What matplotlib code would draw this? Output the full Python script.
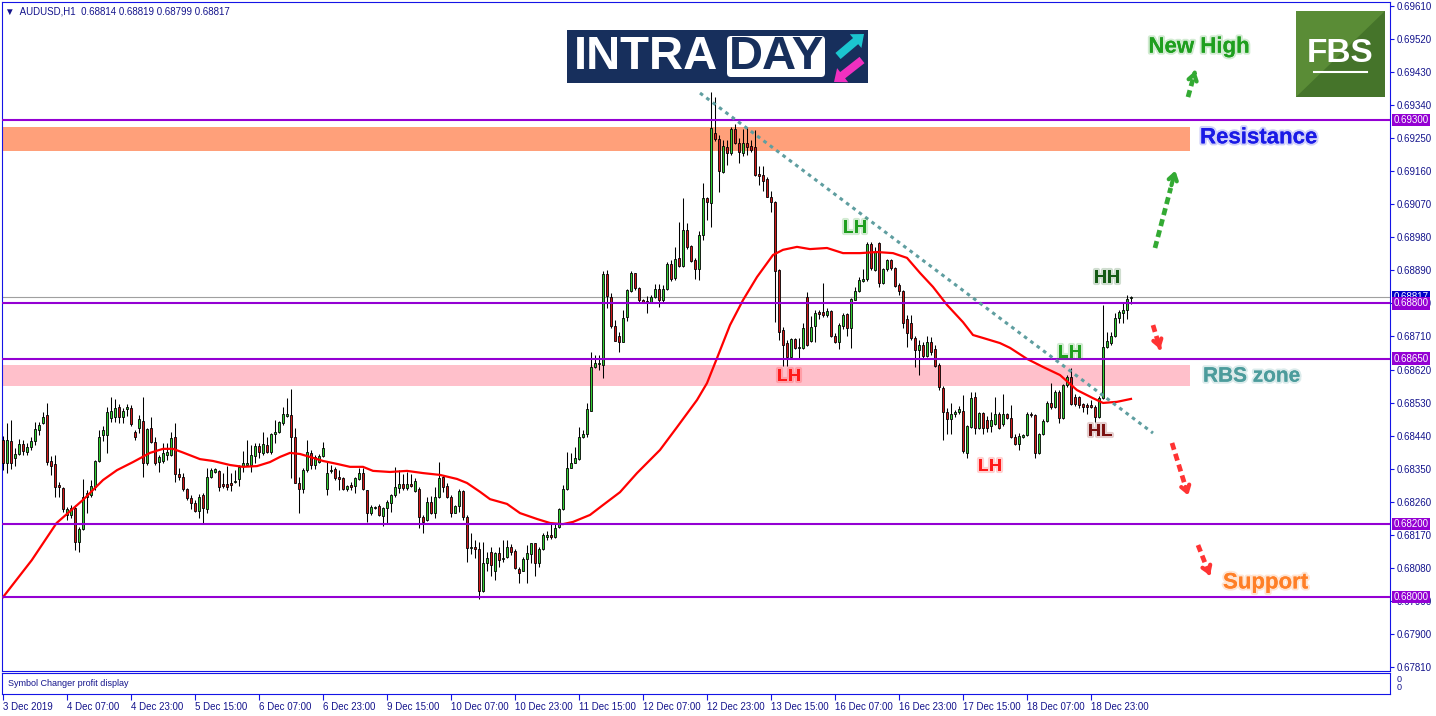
import numpy as np
import matplotlib
matplotlib.use('Agg')
import matplotlib.pyplot as plt
from matplotlib.patches import Rectangle, FancyBboxPatch, FancyArrow, Polygon
import matplotlib.patheffects as pe

plt.rcParams['font.family'] = ['Liberation Sans', 'DejaVu Sans']

W, H = 1436, 716
BASE = 0.68  # candle values below are pips above 0.68000

# AUDUSD H1 candles, 3 Dec 15:00 .. 19 Dec 08:00
bar_open = [
    42.8, 36.5, 42.5, 37.8, 39.0, 41.7, 39.6, 40.8, 42.6, 45.4,
    47.4, 49.6, 37.1, 36.2, 30.5, 29.7, 22.4, 22.4, 24.4, 14.9,
    18.6, 27.4, 27.8, 30.1, 37.1, 44.2, 44.2, 48.7, 49.2, 51.7,
    49.0, 51.2, 51.4, 45.1, 46.0, 48.0, 36.6, 46.0, 42.4, 36.9,
    37.2, 38.7, 38.7, 43.5, 33.5, 32.8, 29.4, 26.9, 25.6, 23.6,
    27.8, 23.9, 32.8, 34.2, 34.5, 30.8, 30.8, 31.0, 31.5, 32.3,
    35.6, 36.0, 36.0, 38.5, 41.2, 39.4, 41.5, 39.6, 44.4, 44.9,
    47.4, 49.4, 49.6, 43.5, 31.0, 29.4, 34.7, 39.4, 36.0, 36.9,
    38.5, 29.4, 34.5, 34.8, 32.7, 32.4, 29.4, 30.5, 30.3, 32.3,
    33.7, 29.2, 22.9, 24.2, 24.8, 22.1, 24.2, 25.7, 27.8, 29.7,
    30.8, 29.7, 30.8, 29.0, 29.4, 21.9, 21.0, 26.0, 22.8, 27.4,
    32.6, 30.3, 27.4, 23.0, 24.8, 29.0, 21.9, 13.3, 13.8, 13.0,
    1.8, 9.4, 12.4, 7.2, 12.1, 10.3, 10.9, 13.8, 12.7, 7.6,
    7.2, 10.3, 11.8, 14.7, 9.4, 13.0, 16.5, 16.9, 16.3, 19.0,
    23.9, 29.4, 35.1, 36.6, 37.5, 43.6, 44.5, 50.8, 62.6, 63.4,
    63.3, 88.0, 81.7, 73.9, 71.2, 69.6, 76.4, 83.5, 88.2, 84.1,
    81.0, 80.6, 80.2, 81.7, 83.9, 80.8, 83.9, 90.8, 86.9, 92.3,
    90.2, 100.0, 95.6, 91.8, 89.5, 98.6, 108.6, 107.4, 126.5, 124.9,
    115.9, 122.5, 120.9, 127.4, 123.6, 121.0, 123.6, 122.9, 122.5, 115.2,
    115.0, 113.8, 109.1, 107.5, 89.1, 72.8, 69.3, 65.3, 70.2, 67.8,
    67.8, 81.7, 69.9, 73.9, 77.8, 77.6, 76.9, 78.0, 71.1, 69.6,
    73.9, 77.0, 73.4, 80.9, 83.4, 86.2, 86.6, 96.2, 89.1, 96.4,
    85.5, 89.3, 91.7, 89.6, 85.0, 83.4, 75.7, 74.6, 70.5, 67.3,
    68.7, 65.7, 69.6, 67.5, 63.2, 56.9, 50.3, 48.5, 49.9, 50.3,
    50.7, 39.4, 46.3, 54.5, 46.0, 50.1, 48.3, 46.5, 47.2, 49.9,
    47.2, 49.9, 48.7, 43.6, 41.8, 43.6, 44.2, 49.9, 49.6, 39.4,
    44.5, 48.1, 52.8, 51.7, 56.0, 48.7, 57.8, 59.9, 54.5, 54.5,
    52.6, 52.4, 52.4, 51.9, 49.0, 54.2, 68.1, 69.3, 71.0, 76.0,
    77.5, 78.1, 81.4]
bar_high = [
    44.0, 47.4, 48.3, 40.5, 43.0, 42.8, 41.9, 43.7, 47.8, 47.8,
    50.4, 53.0, 38.5, 38.6, 31.5, 29.9, 24.5, 25.1, 25.1, 19.2,
    32.1, 29.2, 31.9, 37.4, 45.5, 46.6, 51.9, 54.4, 53.9, 52.6,
    51.4, 52.6, 52.3, 45.5, 49.6, 54.6, 46.0, 49.2, 43.5, 38.7,
    42.1, 41.9, 45.1, 47.5, 35.1, 33.7, 29.7, 27.8, 26.5, 28.1,
    28.3, 35.1, 35.1, 35.1, 34.7, 33.7, 35.7, 33.7, 34.7, 36.0,
    39.9, 42.8, 41.5, 41.9, 41.9, 45.1, 43.7, 44.6, 48.3, 48.1,
    51.9, 54.2, 56.6, 46.0, 32.8, 35.1, 42.8, 40.1, 38.7, 39.0,
    42.4, 36.9, 36.0, 35.4, 34.7, 32.8, 30.5, 31.5, 32.8, 35.1,
    35.1, 29.2, 25.1, 24.8, 25.4, 24.5, 26.5, 28.1, 35.5, 34.6,
    33.6, 34.2, 33.6, 32.4, 29.9, 22.4, 27.4, 27.6, 29.9, 36.9,
    33.3, 31.0, 27.8, 25.1, 29.4, 29.2, 22.4, 17.4, 15.6, 15.1,
    15.1, 12.4, 13.8, 12.4, 13.8, 15.6, 15.6, 14.5, 13.0, 8.3,
    11.0, 14.2, 14.7, 14.7, 13.8, 17.4, 17.9, 19.9, 20.3, 24.2,
    30.6, 39.6, 39.2, 41.0, 46.4, 45.6, 52.8, 66.9, 66.0, 66.0,
    88.7, 89.1, 82.8, 75.5, 72.3, 78.2, 83.9, 88.7, 88.4, 84.6,
    81.2, 82.1, 82.3, 85.3, 85.3, 85.1, 91.4, 91.9, 95.3, 102.3,
    108.6, 102.0, 95.9, 92.3, 99.8, 112.7, 109.1, 137.6, 136.3, 125.9,
    124.5, 124.5, 128.1, 129.0, 125.0, 127.4, 127.7, 124.5, 127.2, 117.4,
    117.4, 114.3, 110.5, 108.0, 89.5, 73.5, 70.0, 70.5, 70.5, 70.5,
    74.6, 83.2, 76.6, 78.2, 78.2, 85.7, 78.7, 78.2, 71.9, 74.6,
    77.3, 77.3, 81.4, 84.6, 87.3, 89.3, 96.8, 96.8, 95.5, 96.6,
    89.6, 92.0, 92.0, 89.8, 85.5, 83.7, 76.9, 76.9, 71.0, 70.1,
    69.6, 71.0, 70.8, 68.7, 63.7, 57.4, 51.5, 53.0, 51.0, 52.0,
    55.1, 46.9, 56.0, 56.0, 50.3, 50.3, 49.4, 50.5, 54.6, 50.3,
    55.4, 50.1, 52.4, 44.5, 44.7, 44.5, 50.3, 50.5, 49.9, 44.7,
    48.5, 53.3, 58.3, 56.5, 56.3, 58.1, 60.5, 62.4, 55.4, 54.7,
    53.0, 53.0, 53.7, 52.4, 54.7, 79.6, 72.3, 72.1, 77.3, 78.2,
    80.5, 82.3, 81.9]
bar_low = [
    34.7, 33.7, 34.8, 35.6, 38.6, 38.7, 38.7, 40.1, 41.5, 44.2,
    47.2, 36.0, 33.3, 27.4, 27.4, 23.3, 21.0, 21.5, 12.9, 12.2,
    18.3, 22.9, 27.4, 29.2, 36.9, 42.5, 39.4, 47.8, 47.8, 47.5,
    47.4, 49.4, 46.7, 42.8, 44.8, 32.7, 36.0, 41.9, 36.0, 34.2,
    36.5, 37.4, 38.5, 31.5, 31.9, 29.0, 26.5, 24.0, 23.3, 21.5,
    20.1, 22.9, 32.4, 33.7, 29.0, 29.7, 29.2, 28.8, 31.0, 30.3,
    34.2, 35.7, 34.2, 36.5, 37.8, 38.7, 39.2, 39.0, 41.9, 44.6,
    46.9, 49.2, 32.4, 31.0, 22.9, 28.3, 34.2, 34.8, 34.8, 36.5,
    38.1, 27.8, 33.7, 31.9, 29.2, 29.2, 28.8, 29.2, 28.5, 31.9,
    29.2, 20.6, 22.4, 23.9, 22.0, 19.5, 20.1, 23.3, 27.4, 28.3,
    29.2, 29.2, 29.9, 28.7, 18.8, 17.6, 20.8, 22.7, 21.5, 26.9,
    28.7, 26.9, 21.8, 22.8, 23.3, 21.0, 9.7, 11.8, 10.6, -0.6,
    1.5, 7.0, 5.8, 4.7, 8.3, 9.7, 10.6, 11.5, 7.6, 3.8,
    7.0, 3.8, 9.2, 5.8, 8.3, 12.9, 15.6, 15.8, 16.1, 18.8,
    23.7, 29.2, 35.1, 36.5, 37.4, 43.3, 43.6, 50.8, 62.3, 61.9,
    59.6, 78.7, 73.3, 69.9, 66.9, 69.6, 75.1, 83.2, 83.7, 80.5,
    80.1, 77.5, 80.1, 81.4, 78.9, 80.5, 83.7, 86.0, 86.3, 89.9,
    90.0, 94.8, 91.4, 86.6, 86.4, 97.3, 102.7, 100.7, 124.3, 110.4,
    115.4, 117.7, 120.4, 123.4, 118.3, 120.1, 120.4, 121.3, 114.7, 112.2,
    110.7, 108.9, 105.0, 75.0, 70.1, 63.0, 63.0, 65.0, 67.5, 65.1,
    67.5, 68.4, 69.6, 69.6, 75.7, 76.4, 76.2, 70.8, 69.2, 67.5,
    73.0, 71.0, 67.8, 80.8, 83.2, 85.9, 86.2, 89.1, 88.9, 84.6,
    85.3, 88.9, 89.1, 84.6, 82.3, 73.2, 68.1, 70.1, 62.8, 60.5,
    65.1, 65.3, 66.0, 62.8, 56.4, 42.8, 44.5, 44.5, 49.2, 49.9,
    39.4, 37.9, 46.0, 44.5, 45.8, 44.5, 45.0, 45.0, 46.9, 45.7,
    46.5, 48.5, 43.3, 41.5, 40.1, 43.3, 43.9, 49.2, 37.9, 39.0,
    44.2, 47.8, 51.3, 51.5, 47.4, 48.5, 57.2, 52.4, 52.1, 51.5,
    50.5, 49.9, 51.5, 47.6, 48.7, 53.9, 67.8, 68.7, 70.8, 74.6,
    74.6, 75.7, 79.9]
bar_close = [
    36.5, 42.8, 36.5, 39.0, 41.7, 39.9, 41.0, 42.5, 45.7, 46.9,
    49.0, 36.9, 35.8, 30.1, 29.9, 23.9, 23.9, 24.2, 14.9, 18.5,
    27.4, 28.3, 30.3, 37.1, 43.7, 45.5, 50.5, 50.7, 51.6, 49.0,
    50.8, 51.7, 47.1, 43.5, 48.4, 36.5, 45.7, 42.4, 36.6, 38.1,
    39.4, 39.6, 43.3, 33.6, 32.7, 29.4, 26.9, 25.6, 23.6, 27.4,
    24.2, 32.8, 34.7, 34.8, 30.1, 30.3, 30.1, 30.6, 31.7, 35.4,
    36.5, 36.6, 38.7, 41.2, 39.6, 41.7, 39.6, 44.4, 45.1, 47.6,
    49.8, 49.8, 43.5, 31.2, 29.4, 34.7, 39.6, 36.0, 38.1, 38.5,
    40.5, 33.7, 34.7, 32.4, 32.1, 29.4, 30.3, 30.1, 32.4, 33.7,
    29.4, 22.9, 24.5, 24.5, 22.4, 24.2, 25.8, 27.8, 29.9, 30.8,
    29.7, 30.8, 30.3, 31.7, 21.9, 20.6, 26.0, 22.8, 27.4, 32.4,
    30.1, 27.4, 23.0, 24.7, 29.0, 21.9, 13.3, 13.8, 13.0, 1.8,
    9.4, 10.6, 8.8, 12.1, 10.0, 10.6, 13.6, 12.4, 7.9, 6.7,
    10.3, 11.9, 14.7, 9.4, 13.0, 16.9, 16.9, 16.3, 18.8, 23.9,
    29.4, 35.1, 36.6, 37.8, 43.5, 44.5, 51.2, 62.8, 63.7, 63.7,
    88.0, 81.9, 73.9, 69.9, 69.4, 76.0, 83.7, 88.4, 84.1, 81.0,
    80.2, 80.2, 81.7, 83.9, 81.0, 83.9, 90.8, 86.6, 92.0, 90.2,
    100.0, 95.3, 91.6, 89.5, 98.6, 108.6, 107.7, 127.7, 124.7, 116.1,
    122.9, 121.0, 127.4, 123.6, 121.3, 123.8, 122.7, 121.8, 115.0, 114.7,
    113.4, 109.1, 107.5, 88.9, 72.3, 68.7, 65.3, 70.2, 67.8, 68.0,
    73.2, 68.7, 73.7, 77.3, 77.1, 76.9, 78.0, 71.0, 69.6, 74.1,
    76.9, 73.4, 81.1, 83.4, 86.4, 86.6, 96.2, 89.6, 94.1, 85.5,
    89.3, 91.7, 89.6, 84.8, 83.5, 74.6, 71.9, 70.5, 67.3, 68.7,
    65.7, 69.6, 66.9, 63.0, 57.2, 50.3, 48.5, 49.9, 50.5, 51.2,
    39.7, 46.7, 54.2, 46.0, 50.1, 46.0, 46.0, 48.3, 49.9, 46.0,
    49.9, 48.7, 43.6, 41.8, 43.9, 44.2, 49.9, 49.6, 39.4, 44.5,
    48.1, 53.0, 51.7, 56.0, 48.7, 57.8, 60.1, 52.6, 52.6, 52.4,
    51.9, 51.9, 51.7, 49.0, 54.2, 68.1, 69.9, 71.0, 76.0, 77.8,
    78.1, 81.1, 81.7]

# red moving average, read at sampled bars (bar index, pips above 0.68)
ma_bar = [0, 7.2, 13.4, 20, 25, 28.5, 32.5, 36.75, 40, 42.5, 44.75, 49.25, 52.5,
          56.75, 60, 63.5, 66.75, 69.25, 71.75, 74.25, 76.75, 80, 83.5, 86.75, 90,
          92.5, 96.75, 101, 105, 109.25, 113.5, 116, 119.25, 121.75, 126, 129.25,
          133.5, 136.75, 140, 142.5, 146.75, 150, 154.25, 158.5, 164.25, 168.5,
          173.5, 176, 178.5, 181.75, 185, 188.5, 192.5, 195, 198.5, 201.75, 206,
          210, 214.25, 218.5, 222.5, 226, 229.25, 232.5, 236, 240, 242.5, 245,
          249.25, 251.75, 256, 260, 264.25, 268.5, 272.5, 275, 278.5, 282]
ma_pips = [0.0, 10.1, 20.2, 26.5, 31.9, 34.6, 36.8, 39.3, 40.4, 40.4, 39.5, 37.6, 37.1,
           36.0, 35.5, 35.7, 36.8, 38.2, 39.3, 39.0, 38.2, 37.1, 36.3, 35.5, 35.5,
           34.4, 34.1, 34.4, 33.8, 33.3, 32.2, 31.1, 28.7, 26.7, 25.4, 22.9,
           21.3, 20.2, 19.9, 20.5, 22.4, 25.1, 28.6, 33.8, 40.1, 46.3,
           53.7, 58.3, 65.1, 74.1, 80.9, 87.2, 93.2, 94.6, 95.4, 94.8, 95.1,
           93.7, 93.7, 94.0, 93.7, 92.4, 88.3, 84.5, 79.6, 74.9, 71.4, 70.6,
           69.2, 67.9, 64.9, 62.7, 60.5, 56.4, 54.2, 52.9, 53.2, 54.0]

time_ticks = [0, 16, 32, 48, 64, 80, 96, 112, 128, 144, 160, 176, 192, 208, 224, 240, 256, 272]
time_labels = ['3 Dec 2019', '4 Dec 07:00', '4 Dec 23:00', '5 Dec 15:00', '6 Dec 07:00',
               '6 Dec 23:00', '9 Dec 15:00', '10 Dec 07:00', '10 Dec 23:00', '11 Dec 15:00',
               '12 Dec 07:00', '12 Dec 23:00', '13 Dec 15:00', '16 Dec 07:00', '16 Dec 23:00',
               '17 Dec 15:00', '18 Dec 07:00', '18 Dec 23:00']
price_ticks = [0.69610, 0.69520, 0.69430, 0.69340, 0.69250, 0.69160, 0.69070, 0.68980,
               0.68890, 0.68800, 0.68710, 0.68620, 0.68530, 0.68440, 0.68350, 0.68260,
               0.68170, 0.68080, 0.67990, 0.67900, 0.67810]
levels = [0.69300, 0.68800, 0.68650, 0.68200, 0.68000]
bid = 0.68817
resistance_zone = (0.69216, 0.69281)
rbs_zone = (0.68576, 0.68632)
trend_bars = [174.25, 287.5]
trend_prices = [0.69373, 0.68447]

o = BASE + np.array(bar_open) / 1e4
hi = BASE + np.array(bar_high) / 1e4
lo = BASE + np.array(bar_low) / 1e4
c = BASE + np.array(bar_close) / 1e4
x = np.arange(len(o))
up = c >= o

axis_c = '#1414E6'
text_c = '#14148C'
purple = '#9400D3'

fig = plt.figure(figsize=(W / 100, H / 100), dpi=100)
ax = fig.add_axes([2 / W, 1 - 671 / H, 1388 / W, 669 / H])
ax.set_xlim(-0.25, 346.75)
ax.set_ylim(0.677990, 0.696209)
for s in ax.spines.values():
    s.set_color(axis_c)
    s.set_linewidth(0.8)
ax.set_xticks([])
ax.yaxis.tick_right()
ax.set_yticks(price_ticks)
ax.set_yticklabels([f'{p:.5f}' for p in price_ticks])
ax.tick_params(axis='y', direction='out', length=3, width=0.8, color=axis_c,
               labelsize=7, labelcolor=text_c, pad=2)

# zones
for (z0, z1), fc in [(resistance_zone, '#FFA07A'), (rbs_zone, '#FFC0CB')]:
    ax.add_patch(Rectangle((-0.25, z0), 297.0, z1 - z0, fc=fc, ec='none', zorder=1))

ax.axhline(bid, color='#A0A0A0', lw=0.8, zorder=1.5)

# candles
ax.vlines(x, lo, hi, color='black', lw=0.75, zorder=3)
ax.bar(x, c - o, bottom=o, width=0.72, color=np.where(up, '#32CD32', '#D01818'),
       edgecolor='black', linewidth=0.6, zorder=4)

ax.plot(ma_bar, BASE + np.array(ma_pips) / 1e4, color='#FF0000', lw=1.6, zorder=5)

for lvl in levels:
    ax.axhline(lvl, color=purple, lw=1.5, zorder=6)

ax.plot(trend_bars, trend_prices, color='#5F9EA0', lw=2.2, ls=(0, (1.2, 1.4)), zorder=6)

# price labels on the right
ytr = ax.get_yaxis_transform()
ax.text(1.0025, bid, f'{bid:.5f}', transform=ytr, fontsize=7, color='white', va='center',
        ha='left', clip_on=False, zorder=8,
        bbox=dict(boxstyle='square,pad=0.12', fc='#0000C8', ec='none'))
for lvl in levels:
    ax.text(1.0025, lvl, f'{lvl:.5f}', transform=ytr, fontsize=7, color='white', va='center',
            ha='left', clip_on=False, zorder=9,
            bbox=dict(boxstyle='square,pad=0.12', fc=purple, ec='none'))


def label(xb, yp, s, col, size, ha='center'):
    ax.text(xb, yp, s, color=col, fontsize=size, fontweight='bold', ha=ha, va='center',
            zorder=8, clip_on=False,
            path_effects=[pe.withStroke(linewidth=3, foreground=col, alpha=0.2), pe.Normal()])


label(299, 0.69498, 'New High', '#1F9F1F', 16)
label(299.25, 0.69251, 'Resistance', '#1A1AE6', 16, 'left')
label(300, 0.68602, 'RBS zone', '#4C9C9C', 15, 'left')
label(305, 0.68039, 'Support', '#FF7F27', 16, 'left')
label(213, 0.69005, 'LH', '#1F9F1F', 13)
label(196.5, 0.68600, 'LH', '#FF1A1A', 13)
label(246.75, 0.68355, 'LH', '#FF1A1A', 13)
label(266.75, 0.68665, 'LH', '#1F9F1F', 13)
label(276, 0.68869, 'HH', '#145A14', 13)
label(274.25, 0.68450, 'HL', '#7A1010', 13)


def dashed_arrow(p0, p1, col):
    (x0, y0), (x1, y1) = p0, p1
    xm, ym = x0 + 0.75 * (x1 - x0), y0 + 0.75 * (y1 - y0)
    ax.plot([x0, xm], [y0, ym], color=col, lw=3.4, ls=(0, (1.5, 0.9)),
            solid_capstyle='butt', zorder=7, clip_on=False)
    ax.annotate('', xy=(x1, y1), xytext=(xm, ym), annotation_clip=False, zorder=7,
                arrowprops=dict(arrowstyle='->,head_length=0.45,head_width=0.3', color=col, lw=3))


dashed_arrow((296.25, 0.69362), (298.25, 0.69441), '#33AA33')
dashed_arrow((288.0, 0.68951), (293.25, 0.69169), '#33AA33')
dashed_arrow((287.5, 0.68741), (289.5, 0.68668), '#FF3333')
dashed_arrow((292.25, 0.68420), (296.5, 0.68270), '#FF3333')
dashed_arrow((298.75, 0.68142), (302.0, 0.68052), '#FF3333')

# indicator sub-window and time axis
ax2 = fig.add_axes([2 / W, 1 - 694 / H, 1388 / W, 21 / H])
ax2.set_xlim(-0.25, 346.75)
ax2.set_ylim(0, 1)
ax2.set_yticks([])
for s in ax2.spines.values():
    s.set_color(axis_c)
    s.set_linewidth(0.8)
ax2.set_xticks(time_ticks)
ax2.set_xticklabels(time_labels)
for t in ax2.get_xticklabels():
    t.set_horizontalalignment('left')
ax2.tick_params(axis='x', direction='out', length=4, width=0.8, color=axis_c,
                labelsize=7, labelcolor=text_c, pad=1.5)
ax2.text(0.004, 0.5, 'Symbol Changer profit display', transform=ax2.transAxes,
         fontsize=6.5, color=text_c, va='center')

# overlay in pixel coordinates for header and logos
ov = fig.add_axes([0, 0, 1, 1])
ov.set_xlim(0, W)
ov.set_ylim(H, 0)
ov.axis('off')
ov.text(5, 11, '▼  AUDUSD,H1  0.68814 0.68819 0.68799 0.68817', fontsize=7,
        color=text_c, va='center')
ov.text(1397, 679, '0', fontsize=6.5, color=text_c, va='center')
ov.text(1397, 687, '0', fontsize=6.5, color=text_c, va='center')

navy = '#172F5C'
ov.add_patch(Rectangle((567, 30), 301, 53, fc=navy, ec='none'))
ov.text(574, 57, 'INTRA', color='white', fontsize=34, fontweight='bold', va='center', ha='left')
ov.add_patch(FancyBboxPatch((727, 36), 98, 41, boxstyle='round,pad=0,rounding_size=4',
                            fc='white', ec='none'))
ov.text(776, 57, 'DAY', color=navy, fontsize=34, fontweight='bold', va='center', ha='center')
ov.add_patch(FancyArrow(838, 56, 26, -22, width=8, head_width=18, head_length=11,
                        length_includes_head=True, fc='#1BC6CF', ec='none'))
ov.add_patch(FancyArrow(862, 60, -28, 22, width=8, head_width=18, head_length=11,
                        length_includes_head=True, fc='#F030C0', ec='none'))

ov.add_patch(Rectangle((1296, 11), 89, 86, fc='#45742A', ec='none'))
ov.add_patch(Polygon([(1296, 11), (1385, 11), (1296, 97)], closed=True, fc='#5A8C36', ec='none'))
ov.text(1340, 53, 'FBS', color='white', fontsize=24, fontweight='bold', va='center', ha='center')
ov.plot([1314, 1367], [72, 72], color='white', lw=1.5)

fig.savefig('out.png', dpi=100)
